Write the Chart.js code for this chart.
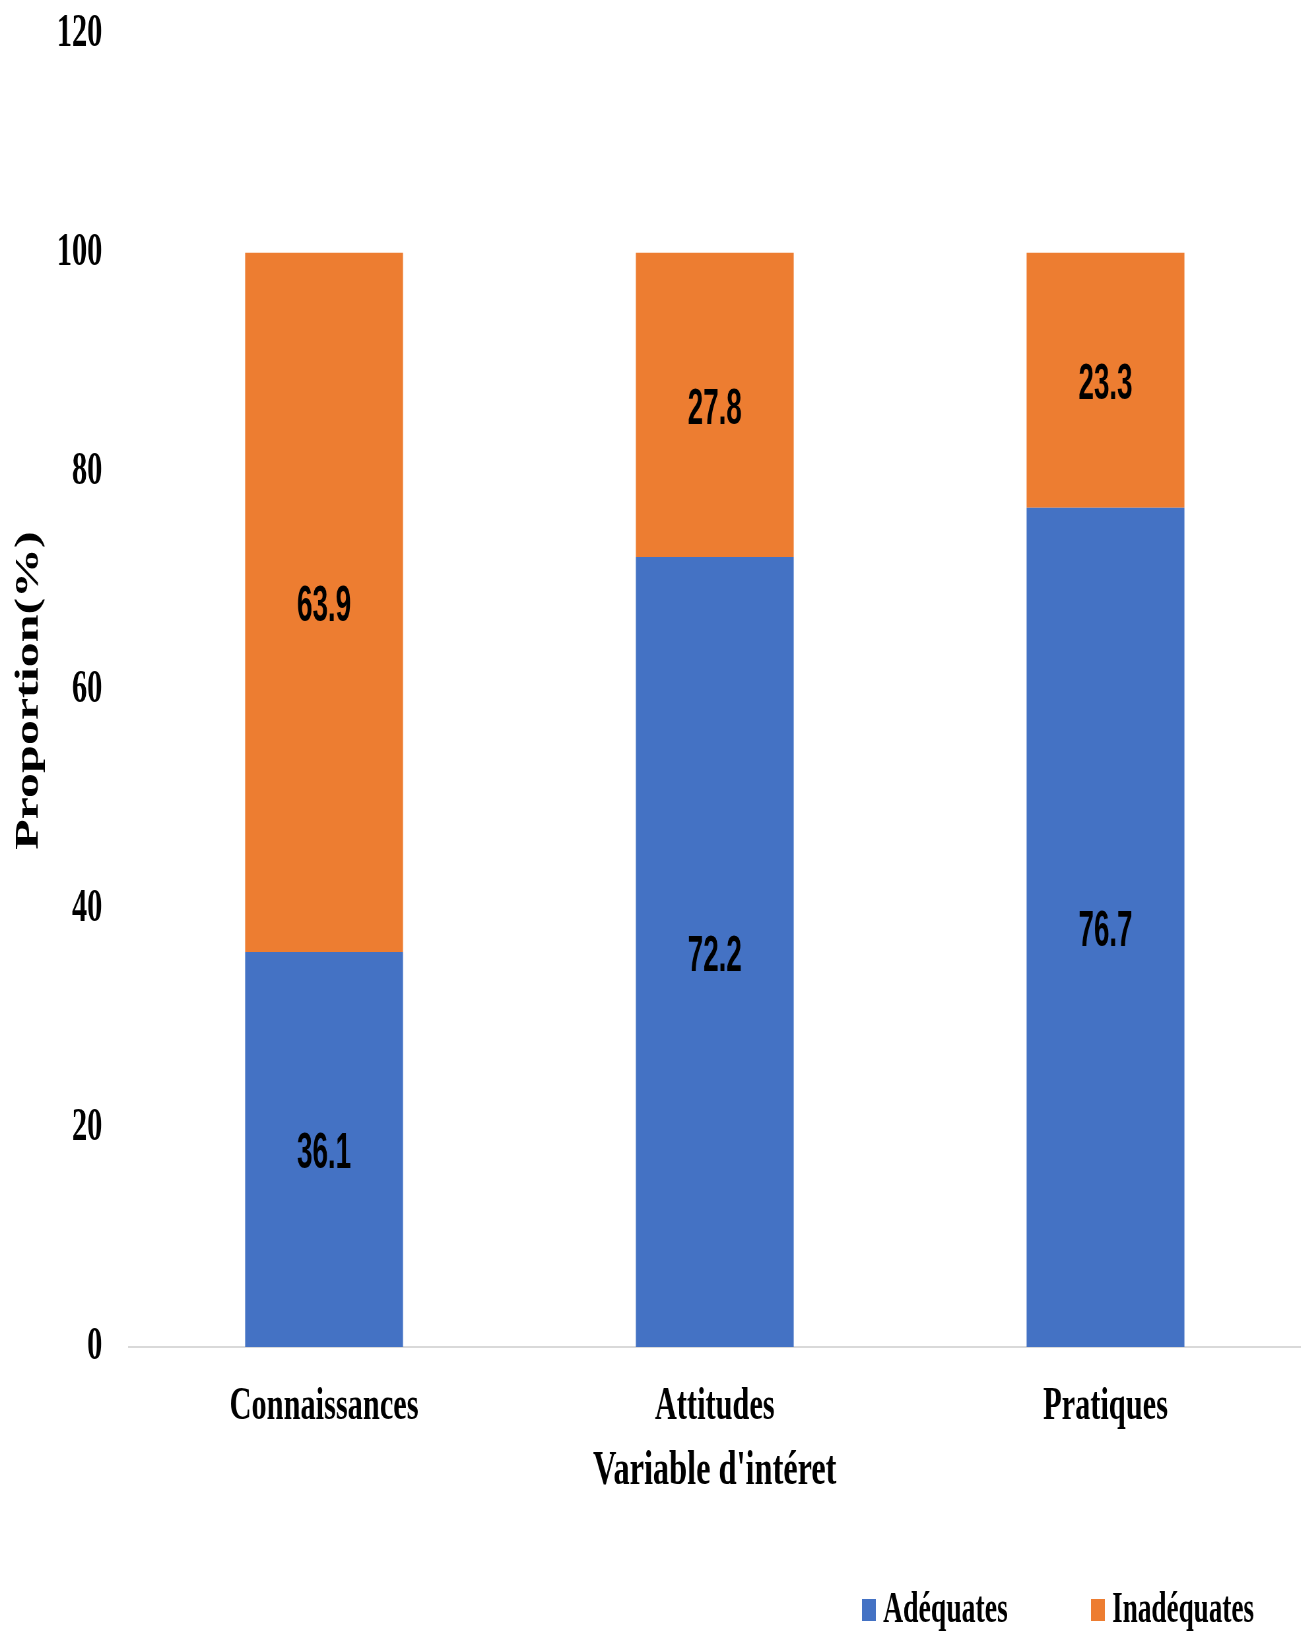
<!DOCTYPE html>
<html lang="fr">
<head>
<meta charset="utf-8">
<title>Proportion par variable d'intéret</title>
<script src="https://cdn.jsdelivr.net/npm/chart.js@4/dist/chart.umd.min.js"></script>
<style>
  html, body { margin: 0; padding: 0; background: #fff; overflow: hidden; }
  /* the source figure is squeezed sideways, so the chart is drawn wide and scaled down */
  #wrap { width: 1971px; height: 1631px; transform: scaleX(0.66); transform-origin: 0 0; }
</style>
</head>
<body>
<div id="wrap"><canvas id="chart" width="1971" height="1631"></canvas></div>
<script>
const categories = ["Connaissances", "Attitudes", "Pratiques"];
const adequates = [36.1, 72.2, 76.7];
const inadequates = [63.9, 27.8, 23.3];
const seriesNames = ["Adéquates", "Inadéquates"];
const seriesColors = ["#4472C4", "#ED7D31"];

const serif = "'Liberation Serif', 'Times New Roman', serif";
Chart.defaults.font.family = serif;
Chart.defaults.font.weight = "bold";
Chart.defaults.color = "#000";

// value labels in the middle of each segment
const segmentLabels = {
  id: "segmentLabels",
  afterDatasetsDraw(chart) {
    const ctx = chart.ctx;
    ctx.save();
    ctx.font = "bold 50px 'Liberation Sans Narrow', 'Liberation Sans', Arial, sans-serif";
    ctx.fillStyle = "#000";
    ctx.textAlign = "center";
    ctx.textBaseline = "middle";
    chart.data.datasets.forEach((ds, i) => {
      const meta = chart.getDatasetMeta(i);
      meta.data.forEach((bar, j) => {
        const y = (bar.y + bar.base) / 2 + 5;
        ctx.fillText(ds.data[j].toFixed(1), bar.x, y, 82);
      });
    });
    ctx.restore();
  },
};

// legend sits low and right of centre in the source, so it is drawn here
const bottomLegend = {
  id: "bottomLegend",
  afterDraw(chart) {
    const ctx = chart.ctx;
    const starts = [1306, 1653];
    const widths = [189, 215];
    ctx.save();
    ctx.font = "bold 44px " + serif;
    ctx.textBaseline = "alphabetic";
    ctx.textAlign = "left";
    chart.data.datasets.forEach((ds, i) => {
      const x = starts[i];
      ctx.fillStyle = ds.backgroundColor;
      ctx.fillRect(x, 1599, 21, 22);
      ctx.fillStyle = "#000";
      ctx.fillText(ds.label, x + 32, 1622, widths[i]);
    });
    ctx.restore();
  },
};

new Chart(document.getElementById("chart"), {
  type: "bar",
  data: {
    labels: categories,
    datasets: [
      { label: seriesNames[0], data: adequates, backgroundColor: seriesColors[0] },
      { label: seriesNames[1], data: inadequates, backgroundColor: seriesColors[1] },
    ],
  },
  options: {
    responsive: false,
    animation: false,
    devicePixelRatio: 1,
    layout: { padding: { top: 34, left: 0, right: 0, bottom: 130.6 } },
    datasets: { bar: { categoryPercentage: 1, barPercentage: 0.404, borderWidth: 0 } },
    plugins: {
      legend: { display: false },
      tooltip: { enabled: false },
    },
    scales: {
      x: {
        stacked: true,
        grid: { display: false, drawTicks: false },
        border: { display: true, color: "#D9D9D9", width: 2 },
        ticks: { font: { size: 46 }, padding: 33, color: "#000" },
        title: { display: true, text: "Variable d'intéret", font: { size: 49 }, padding: 0, color: "#000" },
        afterFit: (scale) => { scale.height = 153.4; },
      },
      y: {
        stacked: true,
        min: 0,
        max: 120,
        ticks: { stepSize: 20, font: { size: 46 }, padding: 40, color: "#000" },
        grid: { display: false, drawTicks: false },
        border: { display: false },
        title: { display: true, text: "Proportion(%)", font: { size: 50 }, padding: { top: 14, bottom: 0 }, color: "#000" },
        afterFit: (scale) => {
          scale.width = 195;
          // top label fits inside the layout padding already
          scale.paddingTop = 0;
          scale.paddingBottom = 0;
        },
      },
    },
  },
  plugins: [segmentLabels, bottomLegend],
});
</script>
</body>
</html>
